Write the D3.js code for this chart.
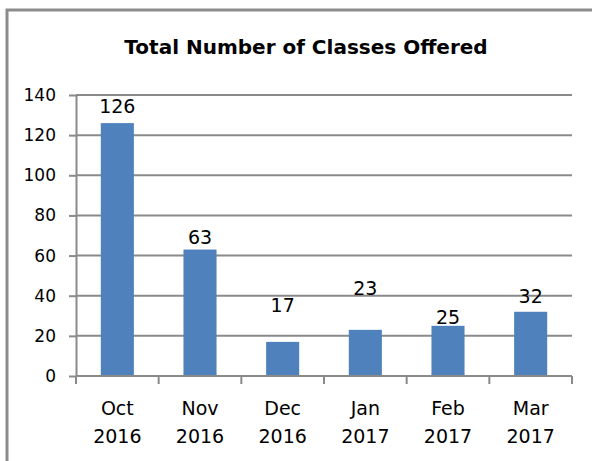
<!DOCTYPE html>
<html>
<head>
<meta charset="utf-8">
<script src="https://cdn.jsdelivr.net/npm/d3@7/dist/d3.min.js"></script>
<style>
  html, body { margin: 0; padding: 0; background: #fff; }
  svg { display: block; }
</style>
</head>
<body>
<svg id="chart" width="592" height="461"></svg>
<script>
// ---- data ----
const title = "Total Number of Classes Offered";
const months = ["Oct", "Nov", "Dec", "Jan", "Feb", "Mar"];
const years = ["2016", "2016", "2016", "2017", "2017", "2017"];
const classes = [126, 63, 17, 23, 25, 32];
const yTicks = [0, 20, 40, 60, 80, 100, 120, 140];

// ---- layout (pixels) ----
const W = 592, H = 461;
const plot = { left: 76, right: 572, top: 95, bottom: 376 };
const labelGap = [10, 6, 30, 35, 2, 9]; // gap between bar top and its data label baseline
const font = "'DejaVu Sans', sans-serif";
const gridColor = "#8a8a8a";
const barColor = "#4f81bd";

const svg = d3.select("#chart");

// outer chart border (cropped on right and bottom)
svg.append("path")
  .attr("d", `M7,${H + 5} V10 H${W + 5}`)
  .attr("fill", "none")
  .attr("stroke", "#8c8c8c")
  .attr("stroke-width", 3);

// title
svg.append("text")
  .attr("x", 306).attr("y", 54)
  .attr("text-anchor", "middle")
  .attr("font-family", font)
  .attr("font-weight", "bold")
  .attr("font-size", 20)
  .attr("fill", "#000")
  .text(title);

const x = d3.scaleBand()
  .domain(months.map((m, i) => i))
  .range([plot.left, plot.right])
  .paddingInner(0.6)
  .paddingOuter(0.3);

const y = d3.scaleLinear().domain([0, 140]).range([plot.bottom, plot.top]);

// gridlines
svg.append("g")
  .selectAll("line")
  .data(yTicks.filter(t => t > 0))
  .join("line")
  .attr("x1", plot.left).attr("x2", plot.right)
  .attr("y1", d => y(d)).attr("y2", d => y(d))
  .attr("stroke", gridColor).attr("stroke-width", 2);

// y axis
const yAxis = svg.append("g")
  .attr("transform", `translate(${plot.left},0)`)
  .call(d3.axisLeft(y).tickValues(yTicks).tickSize(7).tickPadding(13).tickSizeOuter(0));
yAxis.select(".domain").attr("stroke", gridColor).attr("stroke-width", 2);
yAxis.selectAll(".tick line").attr("stroke", gridColor).attr("stroke-width", 2);
yAxis.selectAll(".tick text")
  .attr("font-family", font).attr("font-size", 17).attr("fill", "#000");

// bars
svg.append("g")
  .selectAll("rect")
  .data(classes)
  .join("rect")
  .attr("x", (d, i) => x(i))
  .attr("width", x.bandwidth())
  .attr("y", d => y(d))
  .attr("height", d => y(0) - y(d))
  .attr("fill", barColor);

// x axis
const boundaries = d3.range(months.length + 1).map(i => plot.left + i * (plot.right - plot.left) / months.length);
const xg = svg.append("g");
xg.append("line")
  .attr("x1", plot.left).attr("x2", plot.right)
  .attr("y1", plot.bottom).attr("y2", plot.bottom)
  .attr("stroke", gridColor).attr("stroke-width", 2);
xg.selectAll("line.tick")
  .data(boundaries)
  .join("line")
  .attr("class", "tick")
  .attr("x1", d => d).attr("x2", d => d)
  .attr("y1", plot.bottom).attr("y2", plot.bottom + 8)
  .attr("stroke", gridColor).attr("stroke-width", 2);

const xl = xg.selectAll("text.xl")
  .data(months)
  .join("text")
  .attr("class", "xl")
  .attr("text-anchor", "middle")
  .attr("font-family", font)
  .attr("font-size", 19)
  .attr("fill", "#000");
xl.append("tspan")
  .attr("x", (d, i) => x(i) + x.bandwidth() / 2)
  .attr("y", 415)
  .text(d => d);
xl.append("tspan")
  .attr("x", (d, i) => x(i) + x.bandwidth() / 2)
  .attr("y", 443)
  .text((d, i) => years[i]);

// data labels
svg.append("g")
  .selectAll("text")
  .data(classes)
  .join("text")
  .attr("x", (d, i) => x(i) + x.bandwidth() / 2)
  .attr("y", (d, i) => y(d) - labelGap[i])
  .attr("text-anchor", "middle")
  .attr("font-family", font)
  .attr("font-size", 19)
  .attr("fill", "#000")
  .text(d => d);
</script>
</body>
</html>
